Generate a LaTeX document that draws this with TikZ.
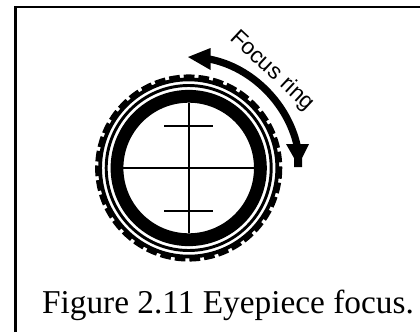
\documentclass[tikz,border=0pt]{standalone}
\usepackage{fontspec}
\setmainfont{Liberation Serif}
\newfontfamily\labelfont{Liberation Sans}
\begin{document}
\begin{tikzpicture}[x=0.75pt,y=-0.75pt,
  framestyle/.style={line width=2pt},
  hair/.style={line width=1.3pt}]
\useasboundingbox (0,0) rectangle (420,332);
\fill[white] (0,0) rectangle (420,332);
\coordinate (c) at (188.7,168);
\coordinate (fa) at (15.3,332);
\coordinate (fb) at (15.3,7);
\coordinate (fc) at (420,7);
\draw[framestyle] (fa) -- (fb) -- (fc);
% rings
\draw[line width=3.4pt,dash pattern=on 8pt off 3pt] (c) circle[radius=91.3];
\draw[line width=2.8pt] (c) circle[radius=88.6];
\draw[line width=2.2pt] (c) circle[radius=82.5];
\draw[line width=9.6pt] (c) circle[radius=71.7];
% reticle
\coordinate (vt) at (188.7,103);
\coordinate (vb) at (188.7,233);
\coordinate (hl) at (123,168.3);
\coordinate (hr) at (254,168.3);
\coordinate (t1l) at (164,125.7);
\coordinate (t1r) at (213,125.7);
\coordinate (t2l) at (164,210.7);
\coordinate (t2r) at (213,210.7);
\draw[hair] (vt) -- (vb);
\draw[hair] (hl) -- (hr);
\draw[hair] (t1l) -- (t1r);
\draw[hair] (t2l) -- (t2r);
% focus arrow
\draw[line width=5.4pt] (209,59) .. controls (252,67) and (290,105) .. (298,150);
\fill (188,57) -- (210.5,48) -- (210.5,70) -- cycle;
\fill (286,144) -- (309,144) -- (302,158) -- (302,167) -- (294,167) -- (294,158) -- cycle;
\node[rotate=-43,font=\labelfont\fontsize{17}{17}\selectfont,inner sep=0pt] (ringlabel) at (272,71) {Focus ring};
\node[anchor=base,font=\fontsize{25}{25}\selectfont,inner sep=0pt] (caption) at (220,313) {\hspace{12pt}Figure 2.11 Eyepiece focus.};
\end{tikzpicture}
\end{document}
